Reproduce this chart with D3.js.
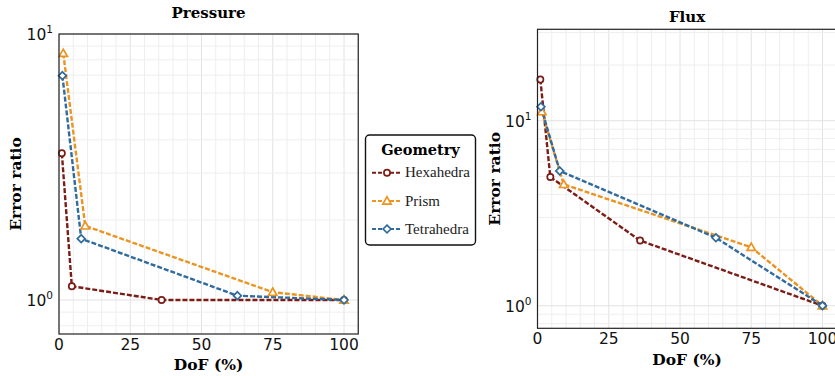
<!DOCTYPE html>
<html><head><meta charset="utf-8">
<script src="https://cdn.jsdelivr.net/npm/d3@7"></script>
<style>body{margin:0;background:#fff;} svg{display:block;}</style>
</head><body>
<svg id="c" width="835" height="376"></svg>
<script>
// ---- data ----
const seriesNames = ["Hexahedra", "Prism", "Tetrahedra"];
const seriesColors = ["#7c1c16", "#ec9421", "#2f6b9e"];
const seriesMarkers = ["circle", "triangle", "diamond"];
const dofHex = [1.0, 4.5, 36, 100];
const dofPrism = [1.5, 9.2, 75, 100];
const dofTetra = [1.2, 7.8, 62.6, 100];
const pressureHex = [3.56, 1.126, 1.0, 1.0];
const pressurePrism = [8.46, 1.90, 1.07, 1.0];
const pressureTetra = [6.97, 1.70, 1.038, 1.0];
const fluxHex = [16.7, 4.96, 2.25, 1.0];
const fluxPrism = [11.2, 4.53, 2.07, 1.0];
const fluxTetra = [11.9, 5.35, 2.33, 1.0];
const xTicks = [0, 25, 50, 75, 100];
const panelTitles = ["Pressure", "Flux"];
const xLabel = "DoF (%)";
const yLabel = "Error ratio";
const legendTitle = "Geometry";

const svg = d3.select("#c");
const serif = "'DejaVu Serif', serif";
const sans = "'DejaVu Sans', sans-serif";

function panel(opts) {
  const {left, right, top, bottom, yDom, yTicksMajor, title, titleY, xLabY, yLabX, data} = opts;
  const x = d3.scaleLinear().domain([0, 105]).range([left, right]);
  const y = d3.scaleLog().domain(yDom).range([bottom, top]);
  const g = svg.append("g");
  const clipId = "clip" + Math.round(left);
  svg.append("clipPath").attr("id", clipId).append("rect")
    .attr("x", left - 6).attr("y", top).attr("width", right - left + 12).attr("height", bottom - top);
  // grid
  const gx = d3.range(0, 106, 5);
  g.selectAll(".vg").data(gx).join("line")
    .attr("x1", d => x(d)).attr("x2", d => x(d)).attr("y1", top).attr("y2", bottom)
    .attr("stroke", d => d % 25 === 0 ? "#e2e2e2" : "#eeeeee").attr("stroke-width", 1);
  const gy = [];
  for (let e = -1; e <= 1; e++) for (let m = 1; m <= 9; m++) {
    const v = m * Math.pow(10, e);
    if (v >= yDom[0] && v <= yDom[1]) gy.push(v);
  }
  g.selectAll(".hg").data(gy).join("line")
    .attr("x1", left).attr("x2", right).attr("y1", d => y(d)).attr("y2", d => y(d))
    .attr("stroke", d => yTicksMajor.includes(d) ? "#e2e2e2" : "#eeeeee").attr("stroke-width", 1);
  // series
  const line = d3.line().x(d => x(d[0])).y(d => y(d[1]));
  const pg = g.append("g").attr("clip-path", `url(#${clipId})`);
  data.forEach((s, i) => {
    const pts = s.x.map((v, k) => [v, s.y[k]]);
    pg.append("path").attr("d", line(pts)).attr("fill", "none")
      .attr("stroke", seriesColors[i]).attr("stroke-width", 2.4)
      .attr("stroke-dasharray", "5,2");
  });
  data.forEach((s, i) => {
    const pts = s.x.map((v, k) => [v, s.y[k]]);
    pts.forEach(p => drawMarker(pg, seriesMarkers[i], x(p[0]), y(p[1]), seriesColors[i]));
  });
  // frame
  g.append("rect").attr("x", left).attr("y", top).attr("width", right - left).attr("height", bottom - top)
    .attr("fill", "none").attr("stroke", "#222").attr("stroke-width", 1.2);
  // x tick labels
  g.selectAll(".xt").data(xTicks).join("text")
    .attr("x", d => x(d)).attr("y", bottom + 16).attr("text-anchor", "middle")
    .attr("font-family", sans).attr("font-size", 15.5).attr("fill", "#111").text(d => d);
  // y tick labels
  yTicksMajor.forEach(v => {
    const t = g.append("text").attr("x", left - 6).attr("y", y(v) + 6).attr("text-anchor", "end")
      .attr("font-family", sans).attr("font-size", 15.5).attr("fill", "#111");
    t.append("tspan").text("10");
    t.append("tspan").attr("dy", -7).attr("font-size", 10.5).text(Math.round(Math.log10(v)));
  });
  // title
  g.append("text").attr("x", (x(0) + x(100)) / 2 + 7).attr("y", titleY).attr("text-anchor", "middle")
    .attr("font-family", serif).attr("font-weight", "bold").attr("font-size", 15).text(title);
  g.append("text").attr("x", (x(0) + x(100)) / 2 + 7).attr("y", xLabY).attr("text-anchor", "middle")
    .attr("font-family", serif).attr("font-weight", "bold").attr("font-size", 15.5).text(xLabel);
  g.append("text").attr("transform", `translate(${yLabX},${(top + bottom) / 2}) rotate(-90)`)
    .attr("text-anchor", "middle").attr("font-family", serif).attr("font-weight", "bold")
    .attr("font-size", 15.5).text(yLabel);
}

function drawMarker(g, type, cx, cy, color) {
  if (type === "circle") {
    g.append("circle").attr("cx", cx).attr("cy", cy).attr("r", 3.1).attr("fill", "#fff")
      .attr("stroke", color).attr("stroke-width", 1.7);
  } else if (type === "triangle") {
    const s = 4.2;
    g.append("path").attr("d", `M${cx},${cy - s}L${cx + s},${cy + s * 0.75}L${cx - s},${cy + s * 0.75}Z`)
      .attr("fill", "#fff").attr("stroke", color).attr("stroke-width", 1.7);
  } else {
    const s = 3.9;
    g.append("path").attr("d", `M${cx},${cy - s}L${cx + s},${cy}L${cx},${cy + s}L${cx - s},${cy}Z`)
      .attr("fill", "#fff").attr("stroke", color).attr("stroke-width", 1.7);
  }
}

panel({left: 59, right: 358.25, top: 34, bottom: 334, yDom: [0.745, 10], yTicksMajor: [1, 10],
  title: panelTitles[0], titleY: 18, xLabY: 370, yLabX: 21,
  data: [{x: dofHex, y: pressureHex}, {x: dofPrism, y: pressurePrism}, {x: dofTetra, y: pressureTetra}]});
panel({left: 537.5, right: 836.75, top: 29.3, bottom: 328.3, yDom: [0.755, 31.2], yTicksMajor: [1, 10],
  title: panelTitles[1], titleY: 22, xLabY: 365, yLabX: 500,
  data: [{x: dofHex, y: fluxHex}, {x: dofPrism, y: fluxPrism}, {x: dofTetra, y: fluxTetra}]});

// legend
const lg = svg.append("g");
lg.append("rect").attr("x", 365.5).attr("y", 135).attr("width", 110).attr("height", 110).attr("rx", 4)
  .attr("fill", "#fff").attr("stroke", "#111").attr("stroke-width", 1.4);
lg.append("text").attr("x", 420.5).attr("y", 155).attr("text-anchor", "middle")
  .attr("font-family", serif).attr("font-weight", "bold").attr("font-size", 14.5).text(legendTitle);
const legY = [172.7, 201, 229];
seriesNames.forEach((n, i) => {
  lg.append("line").attr("x1", 372).attr("x2", 401).attr("y1", legY[i]).attr("y2", legY[i])
    .attr("stroke", seriesColors[i]).attr("stroke-width", 2).attr("stroke-dasharray", "4,2");
  drawMarker(lg, seriesMarkers[i], 387, legY[i], seriesColors[i]);
  lg.append("text").attr("x", 405).attr("y", legY[i] + 4.5).attr("font-family", "'Liberation Serif', serif")
    .attr("font-size", 15).attr("fill", "#222").text(n);
});
</script>
</body></html>
